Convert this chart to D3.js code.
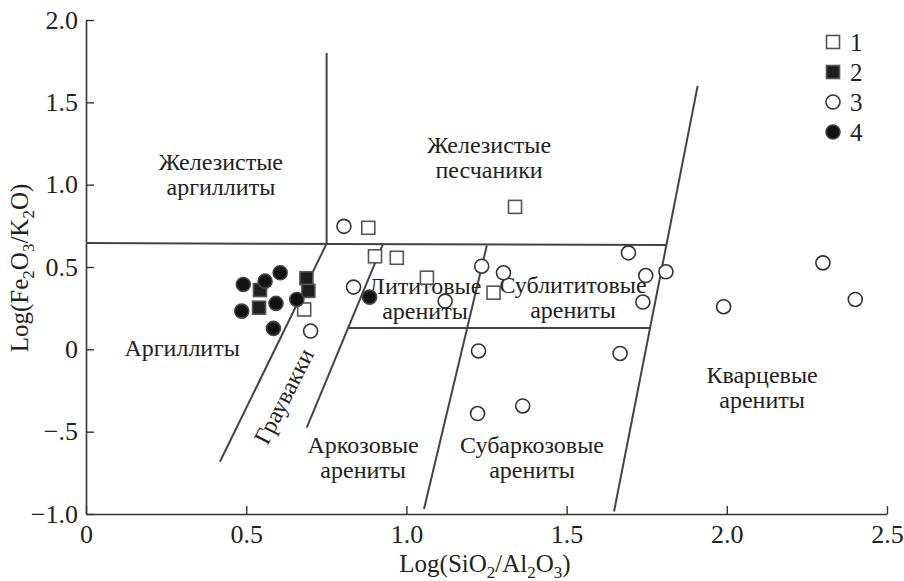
<!DOCTYPE html>
<html>
<head>
<meta charset="utf-8">
<script src="https://cdn.jsdelivr.net/npm/d3@7"></script>
<style>
  body { margin: 0; background: #fff; }
  svg text { font-family: "Liberation Serif", "Times New Roman", serif; fill: #222; }
</style>
</head>
<body>
<div id="chart"></div>
<script>
// sample groups, [Log(SiO2/Al2O3), Log(Fe2O3/K2O)]
const group1 = [[0.881, 0.738], [1.339, 0.865], [0.902, 0.565], [0.970, 0.556],
                [1.064, 0.435], [1.272, 0.344], [0.681, 0.242]];
const group2 = [[0.688, 0.432], [0.694, 0.355], [0.543, 0.360], [0.540, 0.253]];
const group3 = [[0.805, 0.747], [0.835, 0.378], [0.701, 0.111], [1.121, 0.293],
                [1.235, 0.505], [1.303, 0.465], [1.693, 0.586], [1.747, 0.448],
                [1.810, 0.471], [1.738, 0.287], [1.990, 0.259], [2.300, 0.525],
                [2.401, 0.303], [1.667, -0.025], [1.225, -0.010], [1.222, -0.390],
                [1.363, -0.344]];
const group4 = [[0.491, 0.394], [0.559, 0.414], [0.606, 0.465], [0.486, 0.232],
                [0.593, 0.279], [0.585, 0.127], [0.658, 0.303], [0.885, 0.317]];

// field boundaries of the diagram [x1, y1, x2, y2]
const boundaries = [
  [0, 0.645, 1.811, 0.633],
  [0.751, 0.642, 0.751, 1.80],
  [0.418, -0.683, 0.751, 0.642],
  [0.689, -0.475, 0.926, 0.636],
  [1.055, -0.970, 1.251, 0.630],
  [1.648, -0.985, 1.909, 1.600],
  [0.817, 0.130, 1.761, 0.130]
];

const xTicks = [0, 0.5, 1.0, 1.5, 2.0, 2.5];
const xTickLabels = ["0", "0.5", "1.0", "1.5", "2.0", "2.5"];
const yTicks = [-1.0, -0.5, 0, 0.5, 1.0, 1.5, 2.0];
const yTickLabels = ["\u22121.0", "\u2212.5", "0", "0.5", "1.0", "1.5", "2.0"];
const legendLabels = ["1", "2", "3", "4"];

const W = 904, H = 581;
const margin = { top: 20, right: 17, bottom: 67, left: 86 };
const width = W - margin.left - margin.right;
const height = H - margin.top - margin.bottom;

const svg = d3.select("#chart").append("svg")
    .attr("width", W)
    .attr("height", H);
const g = svg.append("g")
    .attr("transform", "translate(" + margin.left + "," + margin.top + ")");

const x = d3.scaleLinear().domain([0, 2.5]).range([0, width]);
const y = d3.scaleLinear().domain([-1, 2]).range([height, 0]);

// axes, ticks point inside
const xAxis = g.append("g")
    .attr("transform", "translate(0," + height + ")")
    .call(d3.axisBottom(x).tickValues(xTicks)
        .tickFormat((d, i) => xTickLabels[i])
        .tickSizeInner(-8).tickSizeOuter(0).tickPadding(11));
const yAxis = g.append("g")
    .call(d3.axisLeft(y).tickValues(yTicks)
        .tickFormat((d, i) => yTickLabels[i])
        .tickSizeInner(-8).tickSizeOuter(0).tickPadding(8));
[xAxis, yAxis].forEach(a => {
  a.attr("font-family", null);
  a.select(".domain").attr("stroke", "#333").attr("stroke-width", 1.6);
  a.selectAll(".tick line").attr("stroke", "#333").attr("stroke-width", 1.4);
  a.selectAll(".tick text")
      .style("font-family", "'Liberation Serif', serif")
      .style("font-size", "26px").attr("fill", "#222");
});

// boundaries
g.selectAll(".bound")
    .data(boundaries)
    .enter().append("line")
    .attr("class", "bound")
    .attr("x1", d => x(d[0])).attr("y1", d => y(d[1]))
    .attr("x2", d => x(d[2])).attr("y2", d => y(d[3]))
    .attr("stroke", "#444")
    .attr("stroke-width", 2);

// field names
function field(lines, cx, by, lh) {
  const t = g.append("text")
      .attr("text-anchor", "middle")
      .style("font-size", "24px");
  lines.forEach((s, i) => {
    t.append("tspan").attr("x", x(cx)).attr("y", y(by) + i * lh).text(s);
  });
}
field(["Железистые", "аргиллиты"], 0.421, 1.090, 25);
field(["Железистые", "песчаники"], 1.258, 1.190, 25);
field(["Аргиллиты"], 0.30, -0.042, 25);
field(["Лититовые", "арениты"], 1.058, 0.333, 25);
field(["Сублититовые", "арениты"], 1.520, 0.345, 25);
field(["Аркозовые", "арениты"], 0.865, -0.630, 25);
field(["Субаркозовые", "арениты"], 1.392, -0.630, 25);
field(["Кварцевые", "арениты"], 2.11, -0.205, 25);
g.append("text")
    .attr("text-anchor", "middle")
    .attr("dominant-baseline", "central")
    .attr("transform", "translate(" + x(0.618) + "," + y(-0.285) + ") rotate(-63)")
    .style("font-size", "24px")
    .text("Граувакки");

// markers
const r = 7, s = 13;
function squares(data, fill, stroke) {
  g.selectAll(null).data(data).enter().append("rect")
      .attr("x", d => x(d[0]) - s / 2).attr("y", d => y(d[1]) - s / 2)
      .attr("width", s).attr("height", s)
      .attr("fill", fill).attr("stroke", stroke).attr("stroke-width", 1.6);
}
function circles(data, fill, stroke) {
  g.selectAll(null).data(data).enter().append("circle")
      .attr("cx", d => x(d[0])).attr("cy", d => y(d[1])).attr("r", r)
      .attr("fill", fill).attr("stroke", stroke).attr("stroke-width", 1.6);
}
squares(group1, "#fff", "#555");
squares(group2, "#1e1e1e", "#555");
circles(group3, "#fff", "#333");
circles(group4, "#111", "#444");

// legend
const markerStyle = [
  { shape: "rect", fill: "#fff", stroke: "#555" },
  { shape: "rect", fill: "#1e1e1e", stroke: "#555" },
  { shape: "circle", fill: "#fff", stroke: "#333" },
  { shape: "circle", fill: "#111", stroke: "#444" }
];
const legend = svg.append("g").attr("transform", "translate(833,42)");
legendLabels.forEach((lab, i) => {
  const row = legend.append("g").attr("transform", "translate(0," + i * 30 + ")");
  const m = markerStyle[i];
  if (m.shape === "rect") {
    row.append("rect").attr("x", -s / 2).attr("y", -s / 2).attr("width", s).attr("height", s)
        .attr("fill", m.fill).attr("stroke", m.stroke).attr("stroke-width", 1.6);
  } else {
    row.append("circle").attr("r", r).attr("fill", m.fill)
        .attr("stroke", m.stroke).attr("stroke-width", 1.6);
  }
  row.append("text").attr("x", 17).attr("y", 9).style("font-size", "25px").text(lab);
});

// axis titles
const xt = svg.append("text")
    .attr("x", 485).attr("y", 572)
    .attr("text-anchor", "middle")
    .style("font-size", "25px");
[["Log(SiO", 0], ["2", 6], ["/Al", -6], ["2", 6], ["O", -6], ["3", 6], [")", -6]].forEach(p => {
  xt.append("tspan").attr("dy", p[1])
      .style("font-size", p[1] > 0 ? "17px" : "25px").text(p[0]);
});
const yt = svg.append("text")
    .attr("transform", "translate(28,268) rotate(-90)")
    .attr("text-anchor", "middle")
    .style("font-size", "25px");
[["Log(Fe", 0], ["2", 6], ["O", -6], ["3", 6], ["/K", -6], ["2", 6], ["O)", -6]].forEach(p => {
  yt.append("tspan").attr("dy", p[1])
      .style("font-size", p[1] > 0 ? "17px" : "25px").text(p[0]);
});
</script>
</body>
</html>
